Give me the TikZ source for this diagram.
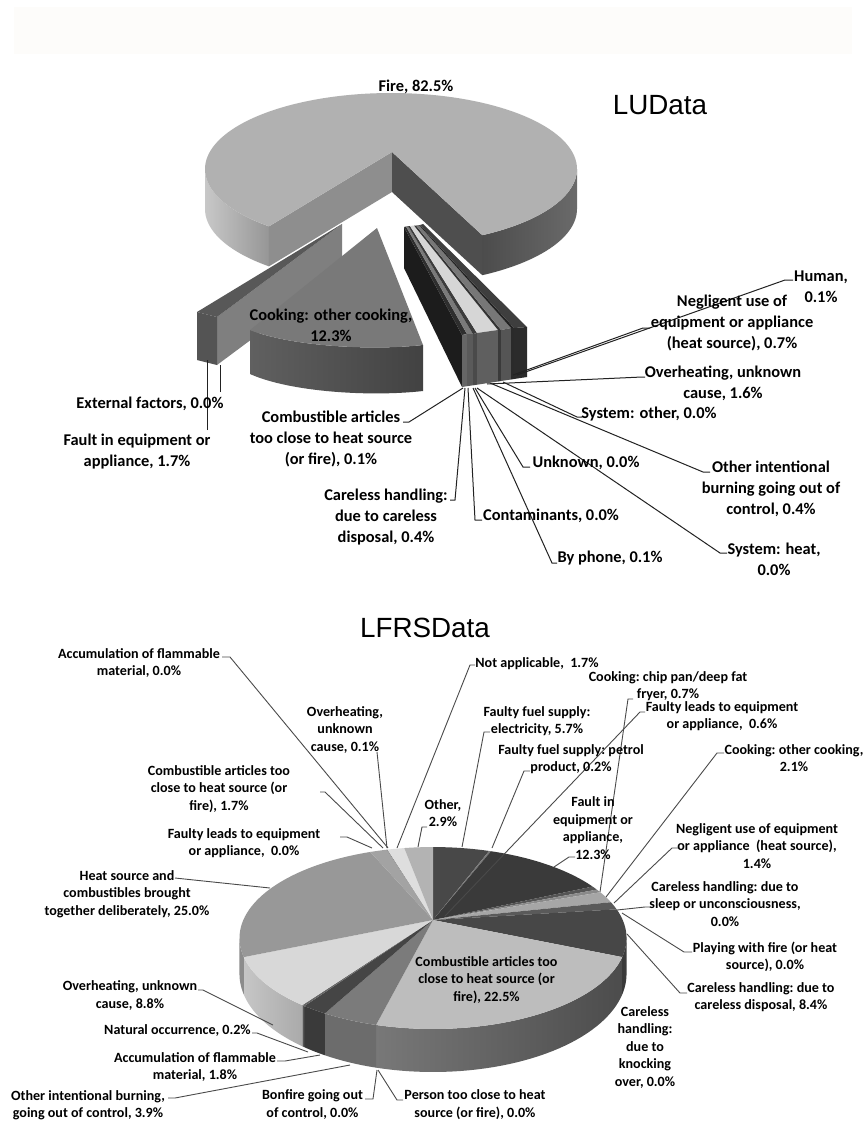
\documentclass[tikz,border=0pt]{standalone}
\usepackage{fontspec}
\setmainfont{Carlito}
\newfontfamily\titlefont{Liberation Sans}
\newcommand\ludfont{\fontsize{16.4}{21}\selectfont\bfseries}
\newcommand\lfrsfont{\fontsize{14.1}{17.5}\selectfont\bfseries}
% greys
\definecolor{banner}{HTML}{FDFCFA}
\definecolor{firetop}{HTML}{B1B1B1}
\definecolor{firecutL}{HTML}{8E8E8E}
\definecolor{firecutR}{HTML}{4E4E4E}
\definecolor{leadtop}{HTML}{222222}
\definecolor{leadbot}{HTML}{4A4A4A}
% three-point leader: label end, tick corner, slice point
\newcommand\leaderln[5]{%
  \coordinate (#1-a) at #3;
  \coordinate (#1-b) at #4;
  \coordinate (#1-c) at #5;
  \draw[#2] (#1-a) -- (#1-b) -- (#1-c);}
\begin{document}
\begin{tikzpicture}[x=1pt,y=-1pt,
  declare function={
    bx(\p)=433+189.7*sin(\p)/(1+0.198*cos(\p));
    byt(\p)=920-87.4*cos(\p)/(1+0.198*cos(\p));
    byb(\p)=920-87.4*cos(\p)/(1+0.198*cos(\p))+34.5/(1+0.198*cos(\p));
    fx(\t)=391+186*cos(\t);
    fyt(\t)=169+76*sin(\t);
    fyb(\t)=209+76*sin(\t);
  },
  ulbl/.style={font=\ludfont, align=center, inner sep=0pt, text=black},
  blbl/.style={font=\lfrsfont, align=center, inner sep=0pt, text=black},
  ttl/.style={font=\titlefont\fontsize{27.8}{30}\selectfont, inner sep=0pt},
  ulead/.style={draw=leadtop, line width=1pt},
  blead/.style={draw=leadbot, line width=0.9pt},
]
\useasboundingbox (0,0) rectangle (864,1122);
\fill[white] (0,0) rectangle (864,1122);
\fill[banner] (14,7) rectangle (852,54);

% ================= LUData : exploded pie =================
% Fire slice (pushed back)
\shade[left color={rgb,255:red,200;green,200;blue,200}, right color={rgb,255:red,150;green,150;blue,150}]
  plot[domain=131:180,samples=30] ({fx(\x)},{fyt(\x)}) --
  plot[domain=180:131,samples=30] ({fx(\x)},{fyb(\x)}) -- cycle;
\shade[left color={rgb,255:red,76;green,76;blue,76}, right color={rgb,255:red,106;green,106;blue,106}]
  plot[domain=360:420.6,samples=30] ({fx(\x)},{fyt(\x)}) --
  plot[domain=420.6:360,samples=30] ({fx(\x)},{fyb(\x)}) -- cycle;
\fill[firecutL] (392,152) -- ({fx(131)},{fyt(131)}) -- ({fx(131)},{fyb(131)}) -- (392,192) -- cycle;
\fill[firecutR] (392,152) -- ({fx(420.6)},{fyt(420.6)}) -- ({fx(420.6)},{fyb(420.6)}) -- (392,192) -- cycle;
\fill[firetop] (392,152) -- plot[domain=131:420.6,samples=120] ({fx(\x)},{fyt(\x)}) -- cycle;

% thin slice pushed to the lower left
\fill[fill={rgb,255:red,127;green,127;blue,127}] (342,224) -- (217,317) -- (217,365) -- (342,272) -- cycle;
\fill[fill={rgb,255:red,84;green,84;blue,84}] (197,312) -- (217,317) -- (217,365) -- (197,360) -- cycle;
\fill[fill={rgb,255:red,88;green,88;blue,88}] (342,224) -- (197,312) -- (217,317) -- cycle;

% cooking slice pushed to the front left
\shade[left color={rgb,255:red,96;green,96;blue,96}, right color={rgb,255:red,66;green,66;blue,66}]
  (250,330) .. controls (290,346) and (370,351) .. (423,345) -- (423,391)
  .. controls (370,397) and (290,392) .. (250,374) -- cycle;
\fill[fill={rgb,255:red,121;green,121;blue,121}] (377,228) -- (423,345)
  .. controls (370,351) and (290,346) .. (250,330) -- cycle;

% bundle of small slices pushed to the front right
\fill[fill={rgb,255:red,28;green,28;blue,28}] (404,227) -- (462,335) -- (462,387) -- (404,268) -- cycle;
\foreach \ax/\ay/\bx/\by/\cx/\cy/\dx/\dy/\col in {
  404/227/462/335/467/334/406/226.5/2E2E2E,
  406/226.5/467/334/473/334/408/226/7A7A7A,
  408/226/473/334/477/333/410/226/3C3C3C,
  410/226/477/333/498/330/414/225.5/D6D6D6,
  414/225.5/498/330/501/330/416/225.5/333333,
  416/225.5/501/330/511/328/419/225/777777,
  419/225/511/328/514/328/420/225/222222,
  420/225/514/328/527/327/423/224/3E3E3E}
  {\definecolor{tmpc}{HTML}{\col}\fill[tmpc] (\ax,\ay) -- (\bx,\by) -- (\cx,\cy) -- (\dx,\dy) -- cycle;}
\foreach \ax/\ay/\bx/\by/\cy/\dy/\col in {
  462/335/467/334/386.2/387/666666,
  467/334/473/334/385.3/386.2/5A5A5A,
  473/334/477/333/384.7/385.3/4A4A4A,
  477/333/498/330/381.5/384.7/5F5F5F,
  498/330/501/330/381/381.5/3A3A3A,
  501/330/511/328/379.5/381/555555,
  511/328/514/328/379/379.5/2A2A2A,
  514/328/527/327/377/379/2B2B2B}
  {\definecolor{tmpc}{HTML}{\col}\fill[tmpc] (\ax,\ay) -- (\bx,\by) -- (\bx,\cy) -- (\ax,\dy) -- cycle;}

% leaders
\leaderln{u-ext}{ulead}{(220,392)}{(220,392)}{(220,365)}
\leaderln{u-fault}{ulead}{(207,430)}{(207,430)}{(207,360)}
\leaderln{u-comb}{ulead}{(403,422)}{(409,422)}{(463,388)}
\leaderln{u-care}{ulead}{(450,500)}{(455,500)}{(465,388)}
\leaderln{u-cont}{ulead}{(482,520)}{(475,520)}{(468,388)}
\leaderln{u-phone}{ulead}{(557,563)}{(552,563)}{(473,388)}
\leaderln{u-unk}{ulead}{(530,467)}{(523,467)}{(475,388)}
\leaderln{u-sheat}{ulead}{(727,553)}{(720,553)}{(477,388)}
\leaderln{u-oint}{ulead}{(710,472)}{(703,472)}{(490,383)}
\leaderln{u-soth}{ulead}{(582,417)}{(577,417)}{(503,382)}
\leaderln{u-over}{ulead}{(645,377)}{(642,377)}{(487,384)}
\leaderln{u-neg}{ulead}{(650,328)}{(643,328)}{(513,375)}
\leaderln{u-hum}{ulead}{(793,280)}{(785,280)}{(517,375)}

% labels
\node[ttl] (u-title) at (660,105) {LUData};
\node[ulbl] (u-fire) at (416,87) {Fire, 82.5\%};
\node[ulbl] (u-cook) at (331,325) {Cooking: other cooking,\\12.3\%};
\node[ulbl] (u-extl) at (150,404) {External factors, 0.0\%};
\node[ulbl] (u-faultl) at (137,452) {Fault in equipment or\\appliance, 1.7\%};
\node[ulbl] (u-combl) at (331,439) {Combustible articles\\too close to heat source\\(or fire), 0.1\%};
\node[ulbl] (u-carel) at (386,517) {Careless handling:\\due to careless\\disposal, 0.4\%};
\node[ulbl] (u-contl) at (551,516) {Contaminants, 0.0\%};
\node[ulbl] (u-phonel) at (610,558) {By phone, 0.1\%};
\node[ulbl] (u-unkl) at (586,463) {Unknown, 0.0\%};
\node[ulbl] (u-sheatl) at (774,559) {System: heat,\\0.0\%};
\node[ulbl] (u-ointl) at (771,489) {Other intentional\\burning going out of\\control, 0.4\%};
\node[ulbl] (u-sothl) at (649,414) {System: other, 0.0\%};
\node[ulbl] (u-overl) at (723,383) {Overheating, unknown\\cause, 1.6\%};
\node[ulbl] (u-negl) at (732,323) {Negligent use of\\equipment or appliance\\(heat source), 0.7\%};
\node[ulbl] (u-huml) at (821,287) {Human,\\0.1\%};

% ================= LFRSData : 3D pie =================
% side walls (front half only)
\foreach \a/\b/\l/\r in {
  101.4/113.04/3E3E3E/383838,
  113.04/194.04/4C4C4C/787878,
  194.04/208.08/6C6C6C/6C6C6C,
  208.08/214.56/3A3A3A/3A3A3A,
  214.56/215.28/555555/555555,
  215.28/246.96/AAAAAA/C6C6C6,
  246.96/258.6/8C8C8C/8C8C8C}
  {\definecolor{wl}{HTML}{\l}\definecolor{wr}{HTML}{\r}
   \shade[left color=wr, right color=wl]
     plot[domain=\a:\b,samples=40] ({bx(\x)},{byt(\x)}) --
     plot[domain=\b:\a,samples=40] ({bx(\x)},{byb(\x)}) -- cycle;}
% top faces, clockwise from twelve o'clock
\foreach \a/\b/\col in {
  0/20.52/484848,
  20.52/21.24/7A7A7A,
  21.24/65.52/3A3A3A,
  65.52/68.04/555555,
  68.04/70.2/8A8A8A,
  70.2/77.76/A6A6A6,
  77.76/82.8/5A5A5A,
  82.8/113.04/474747,
  113.04/194.04/BDBDBD,
  194.04/208.08/7B7B7B,
  208.08/214.56/454545,
  214.56/215.28/666666,
  215.28/246.96/D8D8D8,
  246.96/336.96/989898,
  336.96/343.08/A3A3A3,
  343.08/343.44/888888,
  343.44/349.56/DEDEDE,
  349.56/360/B3B3B3}
  {\definecolor{tc}{HTML}{\col}
   \fill[tc] (433,920) -- plot[domain=\a:\b,samples=40] ({bx(\x)},{byt(\x)}) -- cycle;}

% leaders
\leaderln{b-acc0}{blead}{(222,657)}{(230,657)}{(388,848)}
\leaderln{b-ovr1}{blead}{(377,752)}{(377,752)}{(387,848)}
\leaderln{b-cmb1}{blead}{(320,792)}{(325,792)}{(383,848)}
\leaderln{b-fl0}{blead}{(340,837)}{(347,837)}{(372,848)}
\leaderln{b-heat}{blead}{(175,878)}{(175,878)}{(270,888)}
\leaderln{b-na}{blead}{(475,665)}{(470,665)}{(397,848)}
\leaderln{b-chip}{blead}{(633,699)}{(628,699)}{(600,892)}
\leaderln{b-fl6}{blead}{(645,712)}{(640,712)}{(445,916)}
\leaderln{b-elec}{blead}{(490,732)}{(484,732)}{(462,847)}
\leaderln{b-pet}{blead}{(530,771)}{(524,771)}{(492,848)}
\leaderln{b-oth}{blead}{(427,827)}{(422,827)}{(418,847)}
\leaderln{b-flt}{blead}{(575,857)}{(569,857)}{(554,867)}
\leaderln{b-cko}{blead}{(724,753)}{(717,753)}{(606,897)}
\leaderln{b-neg}{blead}{(679,848)}{(672,848)}{(614,903)}
\leaderln{b-slp}{blead}{(650,907)}{(645,907)}{(617,910)}
\leaderln{b-ply}{blead}{(692,952)}{(684,952)}{(622,913)}
\leaderln{b-dsp}{blead}{(687,993)}{(680,993)}{(627,934)}
\leaderln{b-per}{blead}{(403,1100)}{(397,1100)}{(378,1070)}
\leaderln{b-bon}{blead}{(365,1099)}{(373,1099)}{(377,1070)}
\leaderln{b-ovr8}{blead}{(198,990)}{(203,990)}{(273,1025)}
\leaderln{b-nat}{blead}{(252,1033)}{(257,1033)}{(308,1052)}
\leaderln{b-acc1}{blead}{(277,1061)}{(285,1061)}{(320,1055)}
\leaderln{b-oin}{blead}{(168,1098)}{(175,1098)}{(350,1065)}

% labels
\node[ttl] (b-title) at (425,628) {LFRSData};
\node[blbl] (b-acc0l) at (139,663) {Accumulation of flammable\\material, 0.0\%};
\node[blbl] (b-ovr1l) at (345,729.5) {Overheating,\\unknown\\cause, 0.1\%};
\node[blbl] (b-cmb1l) at (219,789) {Combustible articles too\\close to heat source (or\\fire), 1.7\%};
\node[blbl] (b-fl0l) at (244,843) {Faulty leads to equipment\\or appliance,\ \ 0.0\%};
\node[blbl] (b-heatl) at (127,894) {Heat source and\\combustibles brought\\together deliberately, 25.0\%};
\node[blbl] (b-nal) at (537,664) {Not applicable,\ \ 1.7\%};
\node[blbl] (b-chipl) at (668,686) {Cooking:\ chip pan/deep fat\\fryer, 0.7\%};
\node[blbl] (b-fl6l) at (722,716) {Faulty leads to equipment\\or appliance,\ \ 0.6\%};
\node[blbl] (b-elecl) at (537,721) {Faulty fuel supply:\\electricity, 5.7\%};
\node[blbl] (b-petl) at (571,759) {Faulty fuel supply:\ petrol\\product, 0.2\%};
\node[blbl] (b-othl) at (443,813) {Other,\\2.9\%};
\node[blbl] (b-fltl) at (593,828) {Fault in\\equipment or\\appliance,\\12.3\%};
\node[blbl] (b-ckol) at (794,758) {Cooking:\ other cooking,\\2.1\%};
\node[blbl] (b-negl) at (757,846) {Negligent use of equipment\\or appliance\ \ (heat source),\\1.4\%};
\node[blbl] (b-slpl) at (725,904) {Careless handling:\ due to\\sleep or unconsciousness,\\0.0\%};
\node[blbl] (b-plyl) at (765,957) {Playing with fire (or heat\\source), 0.0\%};
\node[blbl] (b-dspl) at (761,997) {Careless handling:\ due to\\careless disposal,\ 8.4\%};
\node[blbl] (b-knkl) at (645,1047) {Careless\\handling:\\due to\\knocking\\over, 0.0\%};
\node[blbl] (b-cmb2l) at (486.5,980) {Combustible articles too\\close to heat source (or\\fire), 22.5\%};
\node[blbl] (b-perl) at (475,1104.5) {Person too close\ to heat\\source (or fire), 0.0\%};
\node[blbl] (b-bonl) at (312.5,1104.5) {Bonfire going out\\of control, 0.0\%};
\node[blbl] (b-ovr8l) at (130,995.5) {Overheating, unknown\\cause, 8.8\%};
\node[blbl] (b-natl) at (177.5,1030) {Natural occurrence, 0.2\%};
\node[blbl] (b-acc1l) at (195,1067) {Accumulation of flammable\\material, 1.8\%};
\node[blbl] (b-oinl) at (88,1105) {Other intentional burning,\\going out of control, 3.9\%};
\end{tikzpicture}
\end{document}
